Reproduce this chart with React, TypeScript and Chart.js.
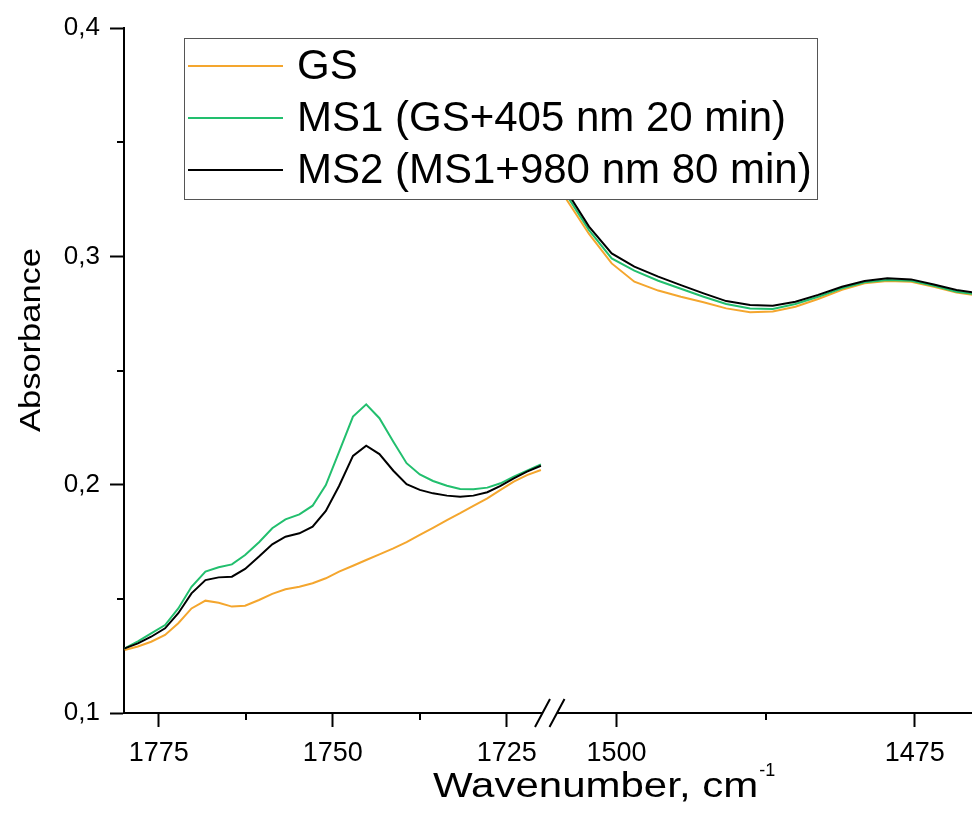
import { useEffect, useRef } from 'react';
import { Chart, registerables } from 'chart.js';

Chart.register(...registerables);

// ---------- data ----------
const leftWavenumbers = [
  1779.9, 1778.0, 1776.1, 1774.1, 1772.2, 1770.3, 1768.3, 1766.4, 1764.5, 1762.6,
  1760.6, 1758.7, 1756.8, 1754.8, 1752.9, 1751.0, 1749.1, 1747.1, 1745.2, 1743.3,
  1741.3, 1739.4, 1737.5, 1735.6, 1733.6, 1731.7, 1729.8, 1727.8, 1725.9, 1724.0,
  1722.1, 1720.1,
];
const gsLeft = [
  0.1276, 0.1291, 0.1312, 0.1342, 0.1393, 0.1458, 0.1492, 0.1483, 0.1466, 0.1470,
  0.1495, 0.1522, 0.1542, 0.1553, 0.1568, 0.1590, 0.1619, 0.1645, 0.1670, 0.1695,
  0.1721, 0.1748, 0.1780, 0.1811, 0.1845, 0.1875, 0.1907, 0.1940, 0.1977, 0.2013,
  0.2042, 0.2064,
];
const ms1Left = [
  0.1283, 0.1314, 0.1349, 0.1385, 0.1458, 0.1553, 0.1619, 0.1638, 0.1651, 0.1692,
  0.1748, 0.1809, 0.1848, 0.1870, 0.1908, 0.1998, 0.2144, 0.2298, 0.2352, 0.2291,
  0.2188, 0.2094, 0.2045, 0.2016, 0.1995, 0.1981, 0.1980, 0.1987, 0.2006, 0.2035,
  0.2061, 0.2089,
];
const ms2Left = [
  0.1283, 0.1305, 0.1334, 0.1371, 0.1437, 0.1524, 0.1582, 0.1594, 0.1597, 0.1631,
  0.1685, 0.1739, 0.1772, 0.1787, 0.1816, 0.1885, 0.1994, 0.2126, 0.2171, 0.2134,
  0.2061, 0.2002, 0.1977, 0.1962, 0.1952, 0.1947, 0.1952, 0.1967, 0.1995, 0.2028,
  0.2057, 0.2083,
];

const rightWavenumbers = [
  1506.1, 1504.2, 1502.3, 1500.4, 1498.5, 1496.5, 1494.6, 1492.7, 1490.8, 1488.8,
  1486.9, 1485.0, 1483.1, 1481.1, 1479.2, 1477.3, 1475.3, 1473.4, 1471.5, 1469.6,
];
const gsRight = [
  0.3470, 0.3250, 0.3098, 0.2969, 0.2889, 0.2850, 0.2823, 0.2799, 0.2772, 0.2755,
  0.2758, 0.2779, 0.2813, 0.2853, 0.2882, 0.2892, 0.2889, 0.2867, 0.2841, 0.2828,
];
const ms1Right = [
  0.3500, 0.3270, 0.3115, 0.2991, 0.2937, 0.2893, 0.2858, 0.2823, 0.2791, 0.2772,
  0.2769, 0.2791, 0.2823, 0.2860, 0.2886, 0.2896, 0.2893, 0.2871, 0.2845, 0.2832,
];
const ms2Right = [
  0.3520, 0.3287, 0.3130, 0.3013, 0.2955, 0.2911, 0.2874, 0.2838, 0.2804, 0.2787,
  0.2784, 0.2801, 0.2831, 0.2867, 0.2892, 0.2904, 0.2899, 0.2877, 0.2853, 0.2838,
];

const seriesLabels = ['GS', 'MS1 (GS+405 nm 20 min)', 'MS2 (MS1+980 nm 80 min)'];
const seriesColors = ['#F4A62E', '#22BF6E', '#000000'];

const yTicks = [0.1, 0.2, 0.3, 0.4];
const yMinorTicks = [0.15, 0.25, 0.35];
const xLeftTicks = [1775, 1750, 1725];
const xLeftMinorTicks = [1762.5, 1737.5];
const xRightTicks = [1500, 1475];
const xRightMinorTicks = [1487.5];

const xAxisTitle = 'Wavenumber, cm';
const xAxisTitleSup = '-1';
const yAxisTitle = 'Absorbance';

const FONT = '"Liberation Sans", Arial, Helvetica, sans-serif';

// ---------- plugins ----------
const minorTicksPlugin = {
  id: 'minorTicks',
  afterDraw(chart: any) {
    const ctx = chart.ctx;
    const y = chart.scales.y;
    const xl = chart.scales.xl;
    const xr = chart.scales.xr;
    ctx.save();
    ctx.strokeStyle = '#000';
    ctx.lineWidth = 2;
    ctx.beginPath();
    yMinorTicks.forEach((v) => {
      const py = Math.round(y.getPixelForValue(v));
      ctx.moveTo(y.right - 7, py);
      ctx.lineTo(y.right, py);
    });
    xLeftMinorTicks.forEach((v) => {
      const px = Math.round(xl.getPixelForValue(v));
      ctx.moveTo(px, xl.top);
      ctx.lineTo(px, xl.top + 7);
    });
    xRightMinorTicks.forEach((v) => {
      const px = Math.round(xr.getPixelForValue(v));
      ctx.moveTo(px, xr.top);
      ctx.lineTo(px, xr.top + 7);
    });
    ctx.stroke();
    ctx.restore();
  },
};

const breakPlugin = {
  id: 'axisBreak',
  afterDraw(chart: any) {
    const ctx = chart.ctx;
    const xl = chart.scales.xl;
    const bx = xl.right;
    const by = Math.round(xl.top);
    ctx.save();
    ctx.fillStyle = '#fff';
    ctx.fillRect(bx + 0.5, by - 3, 14, 6);
    ctx.strokeStyle = '#000';
    ctx.lineWidth = 2;
    ctx.beginPath();
    ctx.moveTo(bx - 7.5, by + 14);
    ctx.lineTo(bx + 7.5, by - 14);
    ctx.moveTo(bx + 7, by + 14);
    ctx.lineTo(bx + 22, by - 14);
    ctx.stroke();
    ctx.restore();
  },
};

const legendBoxPlugin = {
  id: 'legendBox',
  afterDraw(chart: any) {
    const ctx = chart.ctx;
    const area = chart.chartArea;
    const bx = area.left + 60;
    const by = area.top + 10;
    const bw = 633;
    const bh = 161;
    ctx.save();
    ctx.fillStyle = '#fff';
    ctx.fillRect(bx, by, bw, bh);
    ctx.strokeStyle = '#555';
    ctx.lineWidth = 1;
    ctx.strokeRect(bx + 0.5, by + 0.5, bw, bh);
    ctx.font = `42px ${FONT}`;
    ctx.textBaseline = 'middle';
    ctx.textAlign = 'left';
    const ds = chart.data.datasets.slice(0, 3);
    ds.forEach((d: any, i: number) => {
      const ly = by + 28 + i * 52;
      ctx.strokeStyle = d.borderColor;
      ctx.lineWidth = 2;
      ctx.beginPath();
      ctx.moveTo(bx + 4, ly);
      ctx.lineTo(bx + 99, ly);
      ctx.stroke();
      ctx.fillStyle = '#000';
      ctx.fillText(d.label, bx + 113, ly + 1);
    });
    ctx.restore();
  },
};

const axisTitlesPlugin = {
  id: 'axisTitles',
  afterDraw(chart: any) {
    const ctx = chart.ctx;
    const area = chart.chartArea;
    ctx.save();
    ctx.fillStyle = '#000';
    // y title
    ctx.save();
    ctx.translate(32, area.top + 312);
    ctx.rotate(-Math.PI / 2);
    ctx.scale(1.15, 1);
    ctx.font = `30px ${FONT}`;
    ctx.textAlign = 'center';
    ctx.textBaseline = 'middle';
    ctx.fillText(yAxisTitle, 0, 0);
    ctx.restore();
    // x title
    ctx.save();
    ctx.translate(area.left + 309, area.bottom + 84);
    ctx.scale(1.2, 1);
    ctx.font = `35px ${FONT}`;
    ctx.textAlign = 'left';
    ctx.textBaseline = 'alphabetic';
    ctx.fillText(xAxisTitle, 0, 0);
    const w = ctx.measureText(xAxisTitle).width;
    ctx.restore();
    ctx.font = `18px ${FONT}`;
    ctx.textAlign = 'left';
    ctx.textBaseline = 'alphabetic';
    ctx.fillText(xAxisTitleSup, area.left + 309 + w * 1.2 + 1, area.bottom + 63);
    ctx.restore();
  },
};

function makeData(xs: number[], ys: number[]) {
  return xs.map((x, i) => ({ x, y: ys[i] }));
}

export default function App() {
  const canvasRef = useRef<HTMLCanvasElement | null>(null);

  useEffect(() => {
    document.body.style.margin = '0';
    document.body.style.overflow = 'hidden';
    const canvas = canvasRef.current;
    if (!canvas) return;

    const leftSeries = [gsLeft, ms1Left, ms2Left];
    const rightSeries = [gsRight, ms1Right, ms2Right];
    const datasets: any[] = [];
    leftSeries.forEach((ys, i) => {
      datasets.push({
        label: seriesLabels[i],
        data: makeData(leftWavenumbers, ys),
        xAxisID: 'xl',
        yAxisID: 'y',
        borderColor: seriesColors[i],
        borderWidth: 2,
        pointRadius: 0,
        tension: 0,
        fill: false,
        order: 2 - i,
      });
    });
    rightSeries.forEach((ys, i) => {
      datasets.push({
        label: seriesLabels[i] + ' ',
        data: makeData(rightWavenumbers, ys),
        xAxisID: 'xr',
        yAxisID: 'y',
        borderColor: seriesColors[i],
        borderWidth: 2,
        pointRadius: 0,
        tension: 0,
        fill: false,
        order: 2 - i,
      });
    });

    const tickFontX = { family: FONT, size: 27 };
    const tickFontY = { family: FONT, size: 26 };
    const gridCfg = {
      display: true,
      drawOnChartArea: false,
      drawTicks: true,
      tickLength: 14,
      tickWidth: 2,
      tickColor: '#000',
    };
    const borderCfg = { display: true, color: '#000', width: 2 };
    const fitX = (s: any) => {
      s.height = 101;
      s.paddingLeft = 0;
      s.paddingRight = 0;
      s.paddingTop = 0;
      s.paddingBottom = 0;
    };
    const fitY = (s: any) => {
      s.width = 124;
      s.paddingTop = 0;
      s.paddingBottom = 0;
      s.paddingLeft = 0;
      s.paddingRight = 0;
    };

    const chart = new Chart(canvas, {
      type: 'line',
      data: { datasets },
      options: {
        animation: false,
        responsive: false,
        devicePixelRatio: 1,
        layout: { padding: { top: 28, left: 0, right: 0, bottom: 0 } },
        plugins: {
          legend: { display: false },
          tooltip: { enabled: false },
          title: { display: false },
        },
        scales: {
          xl: {
            type: 'linear',
            position: 'bottom',
            stack: 'x',
            stackWeight: 418.5,
            min: 1719.87,
            max: 1780,
            reverse: true,
            offset: false,
            afterBuildTicks: (s: any) => {
              s.ticks = xLeftTicks.map((v) => ({ value: v }));
            },
            afterFit: fitX,
            grid: gridCfg,
            border: borderCfg,
            ticks: {
              font: tickFontX,
              color: '#000',
              padding: 10,
              maxRotation: 0,
              autoSkip: false,
              callback: (v: any) => String(v),
            },
          },
          xr: {
            type: 'linear',
            position: 'bottom',
            stack: 'x',
            stackWeight: 429.5,
            min: 1470.2,
            max: 1506.2,
            reverse: true,
            offset: false,
            afterBuildTicks: (s: any) => {
              s.ticks = xRightTicks.map((v) => ({ value: v }));
            },
            afterFit: fitX,
            grid: gridCfg,
            border: borderCfg,
            ticks: {
              font: tickFontX,
              color: '#000',
              padding: 10,
              maxRotation: 0,
              autoSkip: false,
              callback: (v: any) => String(v),
            },
          },
          y: {
            type: 'linear',
            position: 'left',
            min: 0.1,
            max: 0.4,
            afterBuildTicks: (s: any) => {
              s.ticks = yTicks.map((v) => ({ value: v }));
            },
            afterFit: fitY,
            grid: gridCfg,
            border: borderCfg,
            ticks: {
              font: tickFontY,
              color: '#000',
              padding: 10,
              callback: (v: any) => Number(v).toFixed(1).replace('.', ','),
            },
          },
        },
      },
      plugins: [minorTicksPlugin, breakPlugin, legendBoxPlugin, axisTitlesPlugin],
    } as any);

    return () => {
      chart.destroy();
    };
  }, []);

  return (
    <div style={{ width: 972, height: 814, position: 'relative', background: '#fff' }}>
      <canvas ref={canvasRef} width={972} height={814} style={{ display: 'block' }} />
    </div>
  );
}
